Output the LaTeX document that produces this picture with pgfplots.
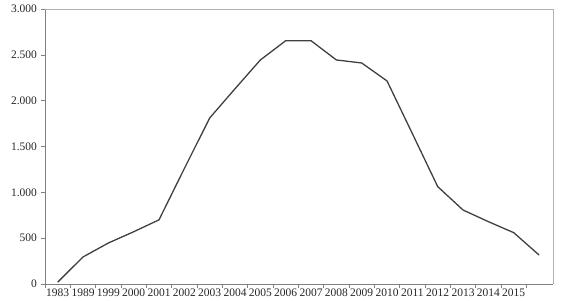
\documentclass[border=0pt]{standalone}
\usepackage{fontspec}
\setmainfont{Liberation Serif}
\usepackage{pgfplots}
\pgfplotsset{compat=1.18}
\begin{document}
\begin{tikzpicture}
\begin{axis}[name=ax,
  scale only axis, width=508pt, height=275pt,
  xmin=-0.5, xmax=19.55, ymin=0, ymax=3000,
  axis lines=left, axis line style={-, black!50, line width=0.8pt},
  xtick={-0.5,0.5,...,18.5},
  x tick label as interval,
  xticklabels={1983,1989,1999,2000,2001,2002,2003,2004,2005,2006,2007,2008,2009,2010,2011,2012,2013,2014,2015},
  ytick={0,500,...,3000},
  major tick length=4.5pt,
  tick align=outside,
  tick style={black!50, line width=0.6pt},
  scaled y ticks=false,
  /pgf/number format/.cd, 1000 sep={.}, assume math mode=true,
  /pgfplots/.cd,
  ticklabel style={font=\fontsize{11.5}{13}\selectfont, text=black!85},
  xticklabel style={inner sep=1.5pt, yshift=1pt},
  clip=false,
]
\addplot[color=black!75, line width=1.3pt, mark=none] coordinates {
(0,20) (1,295) (2,447) (3,570) (4,700) (5,1260) (6,1811) (7,2130) (8,2444) (9,2654)
(10,2654) (11,2444) (12,2411) (13,2215) (14,1640) (15,1062) (16,807) (17,680) (18,560) (19,316)
};
\draw[black!30, line width=0.8pt] (axis cs:-0.5,3000) -- (axis cs:19.55,3000) -- (axis cs:19.55,0);
\end{axis}
\pgfresetboundingbox
\path ([xshift=-45pt,yshift=-17pt]ax.south west) rectangle ([xshift=8pt,yshift=9pt]ax.north east);
\end{tikzpicture}
\end{document}
